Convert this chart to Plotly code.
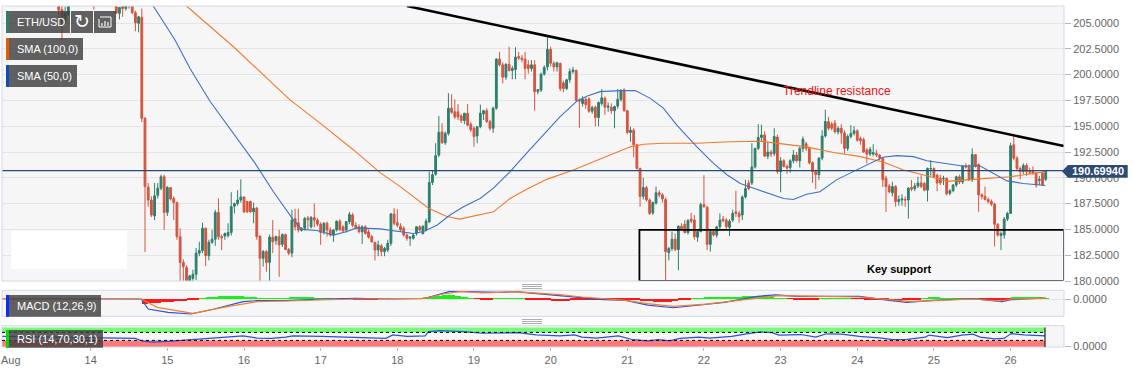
import pandas as pd
import plotly.graph_objects as go

# ---------- data ----------
first_hour = -10
opens = [207.5,206.3,205.1,205.8,207.2,207.6,207.9,208.1,207.8,207.5,
207.4,207.5,207.2,207.6,207.8,207.5,207.3,207.6,207.3,205.94,
206.9,206.4,206.9,207.0,206.0,204.97,205.55,195.76,189.1,187.85,
186.3,188.3,189.0,190.1,186.65,189.05,188.0,187.6,184.3,181.8,
181.3,179.7,180.25,180.65,182.7,182.95,185.1,182.45,183.75,184.05,
186.65,184.3,184.35,184.4,184.7,187.25,187.5,187.85,188.15,187.7,
187.7,186.7,187.05,184.35,182.2,182.85,181.8,184.25,183.9,184.3,
183.55,184.5,183.05,182.7,186.05,185.65,184.9,185.1,186.1,185.25,
186.15,185.9,185.5,184.8,185.6,184.95,184.45,184.95,185.8,185.25,
184.95,185.75,186.4,185.4,185.25,184.75,185.25,184.75,184.3,183.75,
183.0,183.4,182.85,183.0,183.65,186.5,185.65,185.3,185.1,184.45,
184.15,184.15,184.6,185.25,184.6,184.95,185.75,189.55,190.35,192.2,
194.45,193.4,194.3,196.75,196.4,196.4,196.0,195.55,196.25,195.2,
194.8,194.05,194.95,196.2,196.5,195.45,194.8,196.75,201.5,200.95,
199.75,201.0,200.4,200.5,201.75,201.6,201.5,200.95,200.6,200.95,
198.35,198.5,200.05,200.75,202.45,201.1,200.75,201.1,199.2,198.65,
199.5,200.3,200.4,197.55,197.2,197.6,197.65,196.45,196.85,195.85,
197.2,197.7,196.85,196.85,196.5,196.95,197.6,198.5,196.5,194.4,
194.6,193.2,190.9,188.2,189.05,187.85,186.6,187.55,188.55,188.35,
187.9,182.75,183.15,184.05,183.05,185.3,185.5,184.7,186.0,185.9,
184.25,184.8,187.4,187.15,183.55,184.8,184.45,185.25,186.0,185.9,
185.2,185.9,186.7,186.55,186.4,188.15,189.5,189.5,191.05,192.85,
193.9,194.15,192.1,192.5,192.35,193.95,190.6,191.65,191.1,191.0,
191.65,192.2,191.65,192.85,193.3,192.85,191.45,190.6,190.3,191.9,
194.05,195.45,195.2,195.3,194.45,194.8,194.35,192.85,194.0,194.3,
194.55,193.8,193.7,192.7,192.3,192.3,192.35,192.2,191.9,189.95,
189.2,188.55,189.15,187.7,187.85,187.9,187.85,189.05,188.95,189.2,
189.5,189.45,188.8,190.85,190.9,190.25,189.95,189.9,189.95,188.5,
188.75,189.3,190.1,189.6,191.15,191.15,189.8,192.25,191.3,188.35,
188.2,187.9,187.7,187.45,185.5,184.4,184.45,186.0,186.55,193.2,
191.9,190.9,190.6,191.2,190.6,190.7,190.45,189.75,190.45,189.85]
highs = [208,207,206.6,207.5,208,208.2,208.5,208.6,208.4,208.1,
208,208,207.6,208,208.2,208,207.8,208,207.6,206.5,
207.2,207,207.5,207.4,206.2,205.7,206.4,195.9,189.5,188.2,
189.5,189.5,190.3,190.3,189.2,189.1,188.2,187.7,185.1,182.1,
181.5,180.6,181.1,183.2,183.8,185.65,185.2,184,184.95,186.9,
188.0,184.5,184.7,185.6,188.6,187.6,188.8,189.85,188.2,187.75,
187.8,187.6,187.2,184.4,183,183,184.5,185.9,184.4,184.95,
184.6,184.6,183.2,186.9,187,187,185.2,186.2,186.3,186.3,
187.5,186.1,185.7,185.7,185.75,185.2,185,185.85,186,185.4,
185.8,186.7,186.6,185.7,185.5,185.4,185.4,185,184.5,183.8,
183.9,183.6,183.3,184,186.6,187.05,186.95,185.6,185.3,184.6,
184.35,184.6,185.3,185.4,185.4,186.05,190.6,190.75,193.35,196.0,
195.3,194.5,198.2,198.1,197.6,197.15,196.2,196.3,197.15,195.4,
195,195,197.1,196.6,196.75,195.6,196.9,201.6,202.2,201.2,
201.1,202.7,200.85,202.65,202.2,201.9,202.2,201.4,201.4,201.4,
198.6,200.2,200.9,203.75,202.7,201.3,201.25,201.15,199.4,199.6,
200.6,200.75,200.5,197.7,197.9,197.8,197.8,197,197,197.4,
198.6,197.9,197.3,197.2,197,198.6,198.6,198.7,196.6,194.95,
194.8,193.3,191,190,189.2,188,187.7,189.15,188.8,188.5,
188.1,183.3,184.8,184.6,185.4,185.6,185.9,186,186.6,186.4,
184.9,187.6,190.25,187.3,184.9,185,185.3,186.55,186.3,186.1,
186,186.9,188.75,186.8,188.3,189.8,189.8,193.35,192.9,195.2,
195.15,194.5,193.5,192.7,194.8,194.2,192,191.8,191.3,191.8,
192.7,192.5,193,194,193.5,193,191.6,190.8,192,194.6,
196.6,195.9,195.4,195.6,195,195.2,194.6,194.2,195.1,195,
194.7,194,193.9,192.9,193,193.25,192.7,192.3,192,190.2,
189.4,189.6,189.3,188.3,188.4,188.2,189.1,189.8,189.5,190.1,
190.25,189.6,191,191.7,191,190.4,190.3,190.2,190,188.9,
189.4,190.2,190.3,191.2,191.4,191.3,192.85,192.3,191.4,188.5,
189.15,188.1,187.9,187.6,185.6,184.8,186.2,186.7,193.4,194.15,
192.1,191.1,191.4,191.4,191,191.1,190.6,190.2,190.6,190.75]
lows = [205.4,203.3,204.9,205.7,206.9,207.1,207.3,207.5,207.3,207,
206.9,206.3,206.9,207.1,207.3,207,206.9,207.1,205.9,205.35,
205.6,206.2,206.4,205.9,204.2,204.1,195.4,182.8,187.2,186.2,
185.9,188,188.8,184.95,186.3,187.8,185.9,184,179.9,179.9,
179.5,179.5,180,180.1,182.4,182.7,181.45,182,183.6,183.4,
184,183,184,184.2,184.4,186.55,187.3,187.6,186.6,186.6,
186.6,185.6,184,180,181.4,180.9,179.9,182.7,183.5,180.4,
183.3,183,182.5,182.3,184.9,184.7,184.8,184.9,185,185.1,
185.2,185.3,183.5,184.5,184.3,184.3,183.8,184.8,184.9,184.7,
184.7,185.5,185.2,185,184.6,183.6,184.5,184.1,183.7,182,
182.4,182.4,182.4,182.8,183.4,185.4,185.2,184.8,184.3,183.9,
183.4,184,184.4,184.8,184.5,184.8,185.6,189.3,190.2,192,
193.3,193.2,194.1,196.2,195.7,195.6,195.3,195.2,195,194.45,
193,193.35,194.8,195.6,195.3,194.6,194.35,196.6,200.8,199.15,
199.5,200.3,199.55,199.55,201.4,201.2,199.55,200.1,200.3,196.5,
198.1,198.3,199.9,200.4,200.8,200.3,200.3,198.4,198.3,198.5,
199.2,200.1,197.4,194.85,196.9,196.7,196.3,196.2,195,195,
197,196.1,196.4,196.2,194.8,196.7,197.4,196.4,194.2,193.5,
192,190.8,187.2,187.9,187.7,186.4,186.4,187.4,188.1,187.6,
180,182,182.9,182.9,181.05,184.9,184.6,184.5,185.6,184,
183.8,184.7,187.1,183,182.85,184.3,184.2,185,185.7,184.95,
184.35,185.7,186.2,185.65,185.9,188,188.8,189.3,190.9,192.7,
193.5,192,191.8,192,192.1,190.4,188.6,191,190.4,190.5,
191.4,191.5,191,192.5,192.6,191.3,189.5,188.9,189.8,191.7,
193.9,194.6,194.6,194.3,194.2,193.3,192.35,192.6,193.8,194.1,
193.5,193.2,192.4,191.4,192.1,192.1,192,191.7,189.1,186.7,
188.5,188.2,187.2,187.3,187.3,187.2,186.05,188.7,188.7,189,
189,188.7,187.7,190.2,190,188.7,189.3,189.3,188.3,188.3,
188.6,189.1,189.4,189.4,190.9,189.7,189.6,191,186.7,187.9,
187.8,187.5,187.25,183.35,184.3,183,184.1,185.8,186.5,191.7,
190.7,189.85,190.4,190.2,190.3,190.3,189.05,189.3,189.2,189.7]
closes = [206.25,205.1,205.95,207,207.7,207.9,208.1,207.8,207.5,207.4,
207.5,207.2,207.6,207.8,207.5,207.3,207.6,207.3,205.95,206.5,
206.4,206.9,207.2,206,205.03,205.6,195.76,189.15,187.85,186.4,
188.25,189,190.1,186.65,189.05,187.95,187.6,184.3,181.8,181.4,
179.7,180.5,180.65,182.7,182.95,185.1,182.45,183.75,184.05,186.65,
184.3,184.2,184.6,184.7,187.2,187.5,187.85,188.15,186.7,186.7,
186.7,187.05,184.3,182.2,182.85,181.8,184.25,183.8,184.3,183.5,
184.5,183.05,182.7,185.9,185.25,184.95,185.1,186.05,185.95,186.15,
185.9,185.5,184.7,185.6,184.95,184.45,184.95,185.8,184.95,184.85,
185.75,186.45,185.4,185.15,184.8,185.25,184.6,184.25,183.8,183,
183.5,182.85,183.15,183.65,186.5,185.6,185.4,184.95,184.45,184.15,
184.25,184.45,185.25,184.95,185.3,185.8,189.55,190.3,192.15,194.4,
193.4,194.3,196.75,196.35,195.9,195.9,195.55,196.25,195.1,194.65,
194,194.95,196.25,196.5,195.45,194.8,196.75,201.5,200.95,199.75,
201,200.4,200.6,201.7,201.6,201.45,200.6,200.6,200.95,198.35,
198.55,200.05,200.7,202.45,201.1,200.75,201.15,198.65,198.65,199.5,
200.3,200.45,197.5,197.45,197.6,197.1,196.45,196.8,195.85,197.3,
197.75,196.85,196.95,196.5,196.9,197.6,198.45,196.5,194.4,194.6,
193.2,190.9,188.2,189.05,187.85,186.55,187.6,188.55,188.35,187.95,
182.85,183.15,184.05,183.05,185.3,185.05,184.7,185.85,185.8,184.3,
184.8,187.4,187.2,183.55,184.8,184.45,185.25,185.9,185.85,185.25,
185.8,186.55,186.55,186.25,188.15,188.95,188.95,191.05,192.85,193.9,
194.15,192.1,192.5,192.3,194,190.6,191.65,191.1,190.95,191.65,
192.2,191.65,192.85,193.75,192.85,191.45,190.6,190.3,191.9,194.05,
195.45,194.8,194.8,194.45,194.8,194.35,192.85,194,194.3,194.55,
193.65,193.6,192.5,192.3,192.75,192.45,192.2,191.9,189.8,189.15,
188.65,189.15,187.7,187.9,187.95,187.85,189,188.9,189.2,189.5,
189.15,188.8,190.9,190.9,190.1,189.5,189.5,189.95,188.45,188.75,
189.3,190.1,189.6,191.15,191.05,189.8,192.25,191.1,188.35,188.2,
187.9,187.7,187.45,185.5,184.45,184.6,186,186.55,193.1,191.9,
190.9,190.6,191.2,190.6,190.55,190.45,189.3,189.85,189.3,190.7]

sma50_hours = [15,19.6,26.4,31.1,37.4,44.7,51.5,57.2,63.5,66.1,70.8,76,80.2,83.3,90.6,101,104.2,108.4,112.5,116.7,121.9,126.1,131.3,136.5,141.7,146.9,152.1,155.3,159.5,165.7,170.5,175.2,179.3,183.5,189.8,195,199.2,203.4,206.5,211.7,216.9,220,224.1,228.3,233.5,238.7,242.9,248,252.4,257.6,261.8,267,273,278.5,282.7,286.9,292,298.9]
sma50 = [209,206.65,203.35,200.6,197.4,194.3,191.4,188.65,185.9,185,184.9,184.45,184.8,185.15,185.05,184.6,184.8,185.4,186.4,187.2,188,189,190.6,192.4,194.15,195.9,197.4,197.9,198.35,198.45,198.45,197.7,196.75,195.1,193,191.4,190.3,189.45,189.1,188.55,188,187.9,188.4,188.65,189.8,190.6,191.25,192,192.15,192.05,191.65,191.45,191.15,191.15,190.45,189.7,189.45,189.25]
sma100_hours = [25,30,44.7,52,62.4,71.8,82.3,90.6,96.9,105.8,111.5,115.5,119.9,126.1,131.3,136.5,142.8,151.1,157.4,163.7,169,173.1,179.3,189.8,200.2,209.6,214.8,224.1,232.6,241,248.3,254.5,261.8,268.1,274.3,281.6,287.9,293.4,298.9]
sma100 = [208.2,206.65,202.7,200.6,197.55,195.3,192.7,190.5,189.15,187.05,186.25,186,186.3,186.7,188,188.9,189.85,190.75,191.55,192.35,193,193.25,193.35,193.35,193.5,193.55,193.35,193,192.45,192.05,191.5,190.75,190.2,189.65,189.8,189.95,190.1,190.35,190.6]

last_price = 190.6994
trend_hours = [99, 304.7]
trend_prices = [206.65, 193.08]
support_hours = [171.8, 304.7]
support_prices = [180, 184.95]

macd_hours = [-28.4,15.8,18,24.2,31.4,38.7,47.7,52.1,61,72.3,83.4,93.5,104.7,112.5,117,128.2,132.7,139.4,146.9,153.8,160.6,167.5,174.4,182.4,190.4,198.4,208.7,214.4,221.3,229.3,240.7,249.9,255.6,263.6,276.2,285.3,288.2,299]
macd = [0.1,0,-2.98,-3.97,-4.46,-2.98,-0.8,-0.5,-0.5,0,0.2,0,0.2,2.28,2.18,1.98,2.18,1.59,1.0,0.3,-0.2,-0.4,-1.8,-2.6,-1.7,-1,0.8,1.2,0.8,0.8,0.8,-0.4,-1,-0.4,0.1,-0.8,-0.2,0.3]
signal_hours = [-28.4,15.8,20.8,32,43.2,52.1,61,72.3,83.4,104.7,110.3,115.9,122.6,132.7,139.4,146.9,153.8,160.6,167.5,174.4,182.4,192.7,204.1,215.5,229.3,240.7,249.9,256.7,265.9,276.2,284.2,288.8,299]
signal = [0.1,0,-2.48,-4.27,-2.18,-0.8,-0.6,-0.2,0,0.2,1.49,2.28,1.79,2.18,1.79,1.3,0.6,0,-0.4,-1.4,-2.2,-1.5,-0.2,1,0.8,0.6,-0.2,-0.8,-0.4,0,-0.6,0,0.2]
hist_hours = list(range(15, 300, 2))
hist = [0,
-1.6,-1.4,-1.3,-1.1,-1.0,-0.8,-0.6,-0.4,-0.2,0.1,
.3,.5,.7,.8,.9,.8,.6,.3,.05,.05,
.05,.1,.2,.3,.4,.4,.3,.2,.1,.05,
0,-.05,-.05,-.1,-.1,-.1,-.1,-.05,-.05,0,
0,.05,.05,.1,.4,.7,.9,1,1,.8,
.4,.1,-.05,-.1,-.1,.05,.05,.05,.05,.05,
-.1,-.3,-.5,-.5,-.6,-.6,-.6,-.5,-.4,-.3,
-.3,-.2,-.1,-.1,-.2,-.2,-.3,-.5,-.7,-.8,
-.9,-.9,-.9,-.7,-.4,-.1,.1,.2,.3,.3,
.4,.5,.5,.6,.7,.8,.8,.7,.4,.1,
.05,-.05,-.1,-.3,-.2,-.1,.05,.1,.1,.05,
.05,-.05,-.05,-.1,-.1,-.2,-.5,-.6,-.6,-.5,
-.3,-.1,.05,.3,.3,.1,.05,.05,.2,.2,
.1,-.05,-.2,-.5,-.5,-.3,.3,.4,.4,.4,
.3,.2]

rsi_hours = [-28.4,-17,3,14,16.3,19.7,25.3,32,36.5,43.2,47.7,52.1,56.6,61,63.3,72.3,83.4,92.4,94.6,99.1,104.7,105.8,109.2,117,122.6,128.2,133.8,139.4,146.9,151.5,153.8,158.3,165.2,169.8,174.4,177.8,181.2,184.6,190.4,193.8,200.7,205.3,209.8,213.3,215.5,222.4,227,230.4,235,240.7,247.6,251,255.6,261.3,262.5,268.2,272.8,276.2,278.5,283,285.9,288.2,292.2,298.8]
rsi = [52,48,43,41,26,21,26,34,43,48,55,43,41,48,55,52,48,41,60,52,55,78,83,78,69,72,72,60,55,60,48,43,55,34,28,34,28,41,48,43,52,66,76,72,59,62,48,66,64,52,43,34,36,48,59,45,59,64,48,38,41,67,60,55]

day_labels = ["14","15","16","17","18","19","20","21","22","23","24","25","26"]
price_ticks = [180,182.5,185,187.5,190,192.5,195,197.5,200,202.5,205]

# ---------- helpers ----------
base = pd.Timestamp("2019-08-14")
def when(hours):
    return [base + pd.Timedelta(hours=float(h)) for h in hours]

W, H = 1133, 380
L, R, T, B = 2, 1064, 6, 347
def px(x): return (x - L) / (R - L)
def py(y): return (B - y) / (B - T)

GREEN, RED = "#2e7f6d", "#d4553f"
BORDER = "#d3d8ea"
candle_hours = list(range(first_hour, first_hour + len(opens)))

fig = go.Figure()
fig.add_trace(go.Candlestick(
    x=when(candle_hours), open=opens, high=highs, low=lows, close=closes,
    increasing=dict(line=dict(color=GREEN, width=1), fillcolor=GREEN),
    decreasing=dict(line=dict(color=RED, width=1), fillcolor=RED),
    whiskerwidth=0, xaxis="x", yaxis="y", hoverinfo="skip"))
fig.add_trace(go.Scatter(x=when(sma100_hours), y=sma100, mode="lines", xaxis="x", yaxis="y",
                         line=dict(color="#ee7a2d", width=1.1)))
fig.add_trace(go.Scatter(x=when(sma50_hours), y=sma50, mode="lines", xaxis="x", yaxis="y",
                         line=dict(color="#3d72c4", width=1.1)))
fig.add_trace(go.Scatter(x=when(trend_hours), y=trend_prices, mode="lines", xaxis="x", yaxis="y",
                         line=dict(color="black", width=2.6)))

hist_colors = ["#ff0000" if v < 0 else "#00f000" for v in hist]
fig.add_trace(go.Bar(x=when(hist_hours), y=hist, marker=dict(color=hist_colors, line=dict(width=0)),
                     width=2 * 3600 * 1000, xaxis="x2", yaxis="y2", opacity=0.9))
fig.add_trace(go.Scatter(x=when(macd_hours), y=macd, mode="lines", xaxis="x2", yaxis="y2",
                         line=dict(color="#2f4fe0", width=1.2)))
fig.add_trace(go.Scatter(x=when(signal_hours), y=signal, mode="lines", xaxis="x2", yaxis="y2",
                         line=dict(color="#f08030", width=1.2)))
fig.add_trace(go.Scatter(x=when(rsi_hours), y=rsi, mode="lines", xaxis="x3", yaxis="y3",
                         line=dict(color="#2a50e0", width=1.2)))

xr = [base + pd.Timedelta(hours=(L - 90.7) / 3.194), base + pd.Timedelta(hours=(R - 90.7) / 3.194)]
tickdates = [base + pd.Timedelta(days=i) for i in range(len(day_labels))]
xcommon = dict(range=xr, type="date", showgrid=False, zeroline=False, rangeslider=dict(visible=False))
axis_font = dict(family="Liberation Sans, Arial", size=11, color="#666666")

shapes = []
def rect(x0, y0, x1, y1, fill, line=None, lw=0, layer="above"):
    shapes.append(dict(type="rect", xref="paper", yref="paper", x0=px(x0), x1=px(x1), y0=py(y0), y1=py(y1),
                       fillcolor=fill, line=dict(color=line or fill, width=lw), layer=layer))
def seg(x0, y0, x1, y1, color, lw=1, dash="solid"):
    shapes.append(dict(type="line", xref="paper", yref="paper", x0=px(x0), x1=px(x1), y0=py(y0), y1=py(y1),
                       line=dict(color=color, width=lw, dash=dash)))

# last price line
shapes.append(dict(type="line", xref="paper", yref="y", x0=0, x1=1, y0=last_price, y1=last_price,
                   line=dict(color="#2a4a7c", width=1.2)))
# key support box
shapes.append(dict(type="rect", xref="x", yref="y",
                   x0=when(support_hours)[0], x1=when(support_hours)[1],
                   y0=support_prices[0], y1=support_prices[1],
                   line=dict(color="black", width=1.8), fillcolor="rgba(0,0,0,0)"))
# panel borders
rect(L, T, R, 281, "rgba(0,0,0,0)", BORDER, 1)
rect(L, 290.3, R, 316.3, "rgba(0,0,0,0)", BORDER, 1)
rect(L, 325.7, R, 347, "rgba(0,0,0,0)", BORDER, 1)
# RSI bands
rect(L, 327.5, 1045, 332.4, "#78fa78", layer="below")
rect(L, 340.4, 1045, 347, "#ff7878", layer="below")
seg(L, 332.4, 1045, 332.4, "black", 1, "dot")
seg(L, 340.4, 1045, 340.4, "black", 1, "dot")
seg(1045, 327.5, 1045, 347, "black", 1)
# white cover
rect(11, 231, 127, 269, "white")
# label boxes
BOX = "rgba(62,62,62,0.82)"
rect(6, 11, 70, 33, BOX); rect(6, 11, 9, 33, "#2e7f6d")
rect(71, 11, 93, 33, BOX); rect(94, 11, 116, 33, BOX)
rect(6, 38, 83, 60, BOX); rect(6, 38, 9, 60, "#e65c00")
rect(6, 65, 77, 87, BOX); rect(6, 65, 9, 87, "#0b4fb5")
rect(6, 295, 101, 316.7, BOX); rect(6, 295, 9, 316.7, "#0b2cff")
rect(6, 330, 103, 347.7, BOX); rect(6, 330, 9, 347.7, "#00e000")
# bars icon
seg(100, 17, 111, 17, "white", 1); seg(111, 17, 111, 27, "white", 1)
seg(99, 27, 111, 27, "white", 1); seg(99, 19, 99, 27, "white", 1)
for bx, by in ((102, 23), (105, 21), (108, 22)):
    seg(bx, by, bx, 26, "white", 1.2)
# sash handles
for sy in (284.5, 319.5):
    for dy in (0, 2, 4):
        seg(522, sy + dy, 542, sy + dy, "#999999", 0.8)
# price tag
rect(1068, 165, 1127.7, 177.7, "#2b4a75")
shapes.append(dict(type="path", xref="paper", yref="paper",
                   path=f"M {px(1068)} {py(165)} L {px(1062)} {py(171.3)} L {px(1068)} {py(177.7)} Z",
                   fillcolor="#2b4a75", line=dict(width=0)))

def label(text, x, y, color="white", size=11, bold=False, anchor="left"):
    return dict(text=f"<b>{text}</b>" if bold else text, xref="paper", yref="paper",
                x=px(x), y=py(y), xanchor=anchor, yanchor="middle", showarrow=False,
                font=dict(family="Liberation Sans, Arial", size=size, color=color))

annotations = [
    label("ETH/USD", 15, 22), label("SMA (100,0)", 15, 49), label("SMA (50,0)", 15, 76),
    label("MACD (12,26,9)", 15, 306), label("RSI (14,70,30,1)", 15, 339),
    label("↻", 82, 22, size=19, anchor="center"),
    label("Trendline resistance", 837, 91, color="#ee1111", size=12, anchor="center"),
    label("Key support", 899, 269, color="black", size=11, bold=True, anchor="center"),
    label("190.69940", 1098, 171.3, size=11, bold=True, anchor="center"),
    label("Aug", 11, 360, color="#666666", anchor="center"),
]

fig.update_layout(
    width=W, height=H, margin=dict(l=L, r=W - R, t=T, b=H - B, pad=0), autosize=False,
    paper_bgcolor="white", plot_bgcolor="#f6f6f6", showlegend=False, boxgap=0.2, bargap=0,
    hovermode=False,
    xaxis=dict(**xcommon, domain=[0, 1], anchor="y", showticklabels=False, ticks=""),
    xaxis2=dict(**xcommon, domain=[0, 1], anchor="y2", showticklabels=False, ticks="", matches="x"),
    xaxis3=dict(**xcommon, domain=[0, 1], anchor="y3", tickmode="array", tickvals=tickdates, ticktext=day_labels,
                ticks="outside", ticklen=3, tickcolor="#b8b8b8", tickfont=axis_font, matches="x"),
    yaxis=dict(domain=[py(281), 1], range=[180, 206.65], side="right", anchor="x", tickmode="array",
               tickvals=price_ticks, tickformat=".4f", ticks="outside", ticklen=6, tickcolor="#b8b8b8",
               gridcolor="#e4e4e4", gridwidth=1.2, zeroline=False, tickfont=axis_font),
    yaxis2=dict(domain=[py(316.3), py(290.3)], range=[-5.15, 2.59], side="right", anchor="x2", tickmode="array",
                tickvals=[0], tickformat=".4f", ticks="outside", ticklen=6, tickcolor="#b8b8b8",
                gridcolor="#e4e4e4", zeroline=False, tickfont=axis_font),
    yaxis3=dict(domain=[0, py(325.7)], range=[-5.4, 109.7], side="right", anchor="x3", tickmode="array",
                tickvals=[0], tickformat=".4f", ticks="outside", ticklen=6, tickcolor="#b8b8b8",
                showgrid=False, zeroline=False, tickfont=axis_font),
    shapes=shapes, annotations=annotations,
)

fig.write_html("out.html", config=dict(displayModeBar=False),
               post_script="document.body.style.margin='0';document.body.style.overflow='hidden';")
